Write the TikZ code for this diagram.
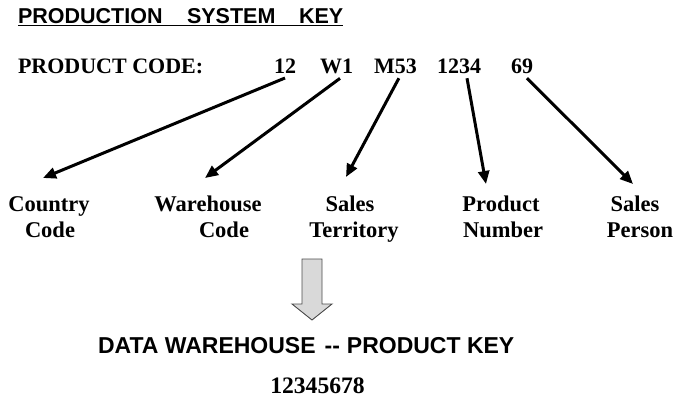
\documentclass[tikz,border=0pt]{standalone}
\usepackage{fontspec}
\setmainfont{Liberation Serif}
\setsansfont{Liberation Sans}
\usetikzlibrary{arrows.meta}
\begin{document}
\begin{tikzpicture}[x=1pt,y=-1pt,
  every node/.style={inner sep=0pt, outer sep=0pt},
  sansb/.style={font=\fontsize{21.5}{21.5}\selectfont\sffamily\bfseries},
  dwb/.style={font=\fontsize{23}{23}\selectfont\sffamily\bfseries},
  codeb/.style={font=\fontsize{22}{22}\selectfont\bfseries},
  numb/.style={font=\fontsize{22}{22}\selectfont\bfseries},
  labb/.style={font=\fontsize{22.5}{22.5}\selectfont\bfseries, anchor=base},
  keyb/.style={font=\fontsize{23.6}{23.6}\selectfont\bfseries, anchor=base},
  conn/.style={line width=3pt, -{Triangle[length=13pt,width=11pt]}},
  blockarrow/.style={draw=black!70, line width=0.9pt, fill=black!15, line join=miter}
]
\useasboundingbox (0,0) rectangle (679,397);

% title
\node[sansb, anchor=base west] (title) at (18,23)
  {PRODUCTION\hspace{24.5pt}SYSTEM\hspace{23.6pt}KEY};
\draw[line width=1.1pt] ([yshift=-2.5pt]title.base west) -- ([yshift=-2.5pt]title.base east);

% product code line
\node[codeb, anchor=base west] (pc) at (18,73) {PRODUCT CODE:};
\node[numb, anchor=base west] (n12) at (274,73) {12};
\node[numb, anchor=base west] (nW1) at (320,73) {W1};
\node[numb, anchor=base west] (nM53) at (374,73) {M53};
\node[numb, anchor=base west] (n1234) at (437,73) {1234};
\node[numb, anchor=base west] (n69) at (511,73) {69};

% labels
\node[labb] (c1) at (49,211) {Country};
\node[labb] (c2) at (50,237) {Code};
\node[labb] (w1) at (208,211) {Warehouse};
\node[labb] (w2) at (224,237) {Code};
\node[labb] (t1) at (350,211) {Sales};
\node[labb] (t2) at (354,237) {Territory};
\node[labb] (p1) at (501,211) {Product};
\node[labb] (p2) at (503,237) {Number};
\node[labb] (sp1) at (635,211) {Sales};
\node[labb] (sp2) at (640,237) {Person};

% arrow end points
\coordinate (e1) at (43,178);
\coordinate (e2) at (205,178);
\coordinate (e3) at (346,177);
\coordinate (e4) at (486,184);
\coordinate (e5) at (633,184);

\draw[conn] ([yshift=-5pt]n12.south) -- (e1);
\draw[conn] ([xshift=3.5pt,yshift=-5pt]nW1.south) -- (e2);
\draw[conn] ([xshift=3.5pt,yshift=-5pt]nM53.south) -- (e3);
\draw[conn] ([xshift=8pt,yshift=-5pt]n1234.south) -- (e4);
\draw[conn] ([xshift=5pt,yshift=-5pt]n69.south) -- (e5);

% block arrow
\draw[blockarrow] (302,259) -- (322,259) -- (322,304) -- (332,304) -- (312,320)
  -- (292,304) -- (302,304) -- cycle;

% data warehouse
\node[dwb, anchor=base west] (dw) at (98,353)
  {DATA WAREHOUSE\hspace{9pt}-{}-\hspace{7pt}PRODUCT KEY};
\node[keyb] (key) at (317.5,393) {12345678};
\end{tikzpicture}
\end{document}
